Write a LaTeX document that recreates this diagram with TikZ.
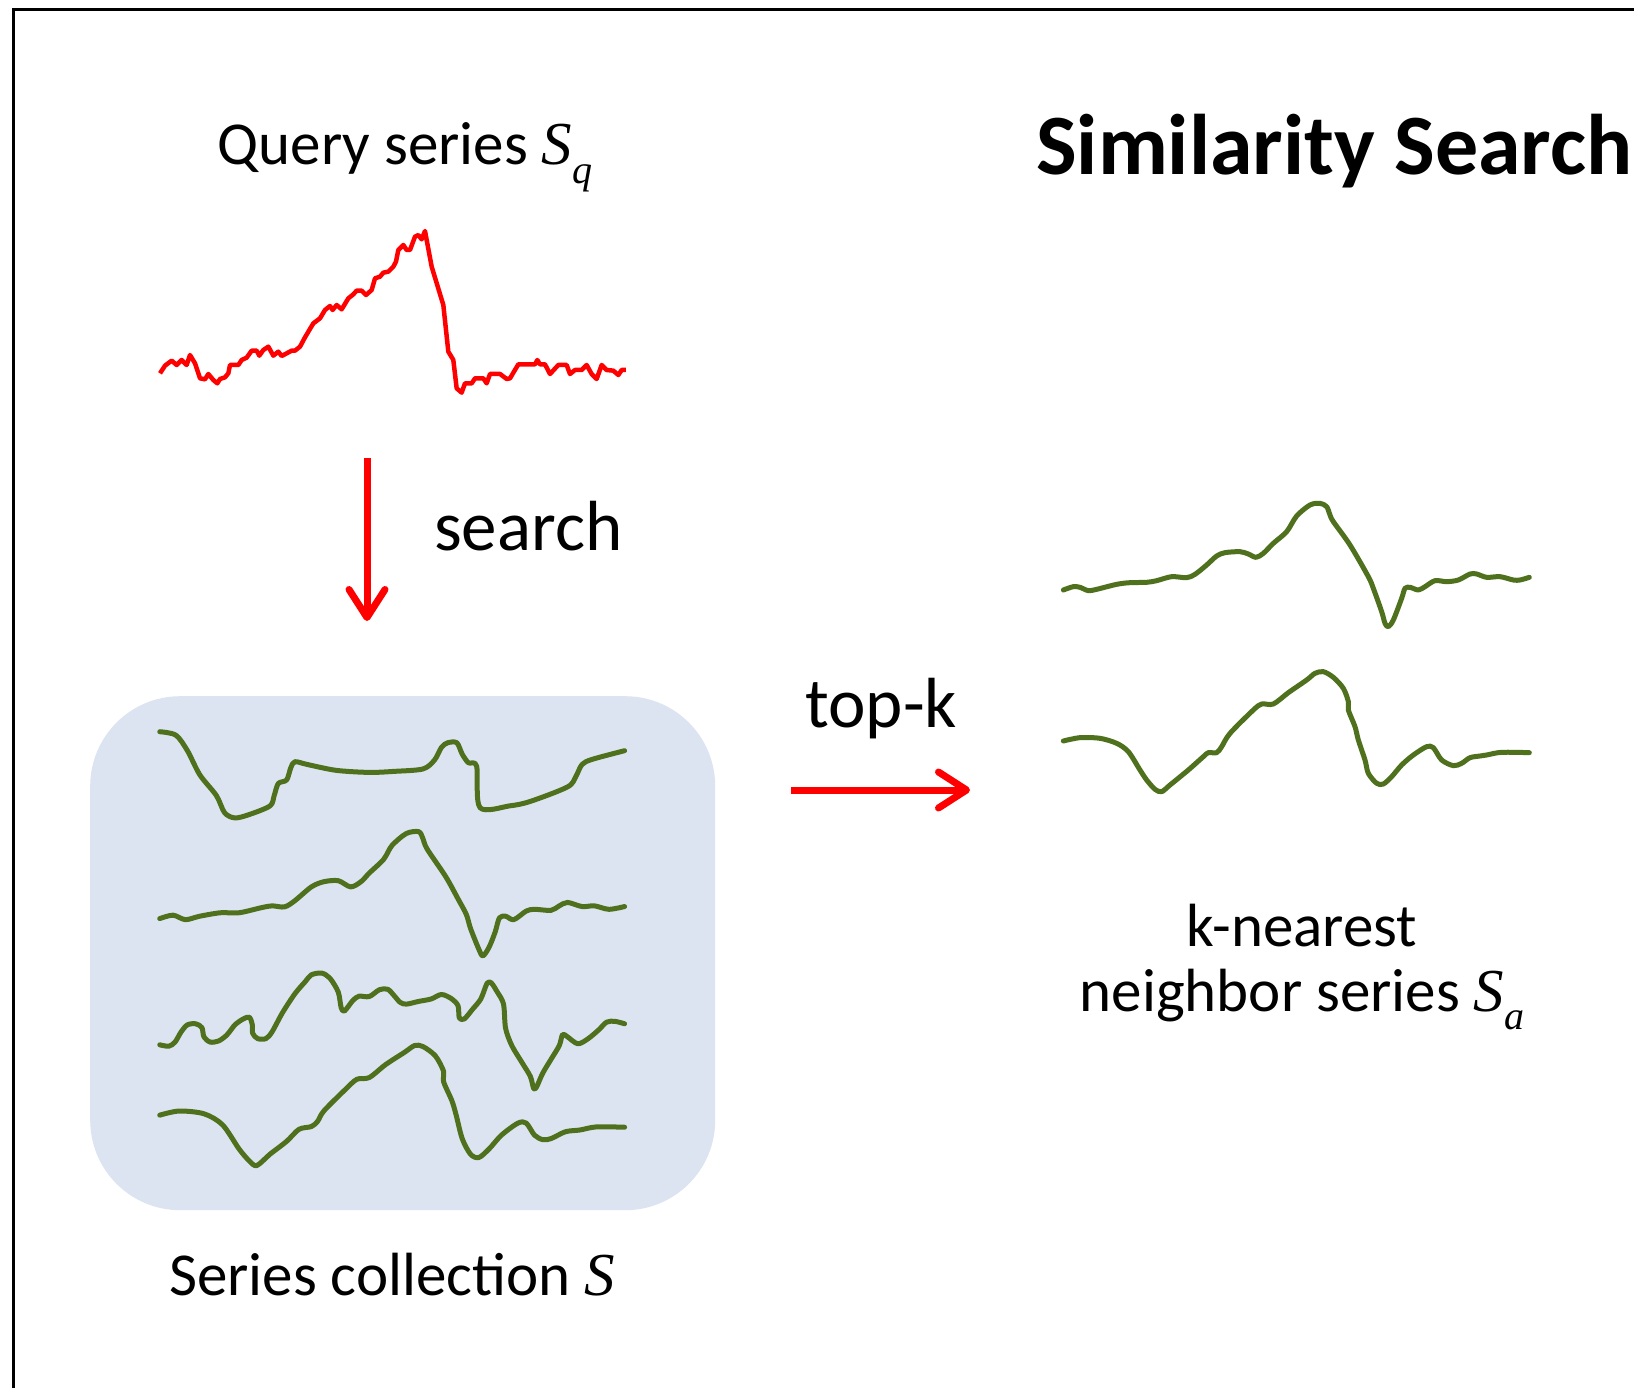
\documentclass[tikz,border=0pt]{standalone}
\usepackage{fontspec}
\setmainfont{Carlito}
\newfontfamily\mfont{Liberation Serif}
\usetikzlibrary{arrows.meta}
\definecolor{sgreen}{RGB}{79,113,30}
\definecolor{boxblue}{RGB}{220,228,241}
\definecolor{qred}{RGB}{255,0,0}
\newcommand{\svar}[1]{{\mfont\itshape S}\raisebox{-0.3em}{\mfont\itshape\fontsize{40}{40}\selectfont #1}}
\tikzset{
  lbl/.style={font=\fontsize{61}{72}\selectfont, inner sep=0pt, anchor=base},
  biglbl/.style={font=\fontsize{71}{80}\selectfont, inner sep=0pt, anchor=base west},
  gline/.style={draw=sgreen, line width=5pt, line cap=round, line join=round},
  rline/.style={draw=qred, line width=4.5pt, line join=round},
  redarrow/.style={draw=qred, line width=7pt, -{Straight Barb[length=28pt, width=36pt, round]}},
  frame/.style={draw=black, line width=3pt},
}
\begin{document}
\begin{tikzpicture}[x=1pt, y=-1pt]
\useasboundingbox (0,0) rectangle (1634,1388);
\fill[white] (0,0) rectangle (1634,1388);
% frame
\draw[frame] (13.5,1388) -- (13.5,10) -- (1634,10);

% title and labels
\node[font=\fontsize{86}{95}\selectfont\bfseries, inner sep=0pt, anchor=base west] (title) at (1036,175) {Similarity Search};
\node[lbl] (qlabel) at (405,165) {Query series \svar{q}};
\node[biglbl] (searchlbl) at (434,550) {search};
\node[biglbl] (topklbl) at (805,727) {top-k};
\node[lbl] (knn1) at (1302,946) {k-nearest};
\node[lbl] (knn2) at (1302,1011) {neighbor series \svar{a}};
\node[lbl] (clabel) at (392,1295) {Series collection {\mfont\itshape S}};

% collection box
\node[fill=boxblue, rounded corners=90pt, minimum width=625pt, minimum height=514pt, inner sep=0pt, anchor=north west] (coll) at (90,696) {};

% arrows
\coordinate (sa) at (367,458);
\coordinate (sb) at (367,621);
\draw[redarrow] (sa) -- (sb);
\coordinate (ta) at (791,790);
\coordinate (tb) at (970,790);
\draw[redarrow] (ta) -- (tb);

% query series
\begin{scope}[shift={(140,200)}, scale=1/3]
\draw[rline] plot coordinates {(60,520)(75,497)(95,482)(110,495)(125,480)(140,495)(150,465)(165,490)(180,535)(195,538)(205,522)(220,540)(232,550)(240,537)(255,532)(265,520)(270,495)(295,495)(305,480)(320,473)(335,452)(350,452)(358,467)(370,450)(385,440)(400,467)(415,455)(425,468)(440,460)(455,452)(465,452)(480,440)(495,412)(520,370)(540,355)(555,330)(570,318)(578,330)(590,315)(605,328)(625,295)(640,283)(650,272)(665,272)(678,285)(695,270)(705,235)(720,230)(730,218)(745,215)(760,200)(768,185)(775,150)(790,135)(800,150)(810,150)(825,110)(835,105)(845,118)(855,93)(875,200)(910,315)(925,455)(940,480)(950,565)(965,578)(975,550)(995,550)(1005,535)(1030,535)(1040,550)(1050,522)(1080,522)(1100,537)(1110,535)(1135,493)(1185,493)(1192,480)(1200,493)(1215,493)(1230,522)(1255,495)(1280,495)(1290,522)(1305,510)(1325,510)(1340,495)(1355,522)(1370,537)(1385,495)(1400,510)(1420,512)(1435,525)(1445,510)(1458,510)};
\end{scope}

% collection series
\begin{scope}[shift={(80,680)}, xscale=1/2.42, yscale=1/2.9]
\draw[gline] plot[smooth, tension=0.5] coordinates {(193,150)(232,160)(260,205)(290,275)(330,335)(350,385)(375,400)(410,390)(460,365)(470,335)(480,300)(500,290)(510,255)(520,237)(550,245)(620,262)(700,268)(760,265)(830,258)(858,232)(875,195)(890,182)(912,182)(925,215)(940,240)(960,250)(968,370)(1040,365)(1090,352)(1180,310)(1200,280)(1215,245)(1240,230)(1318,205)};
\draw[gline] plot[smooth, tension=0.5] coordinates {(193,692)(225,682)(255,695)(290,685)(340,675)(385,675)(440,660)(465,655)(495,658)(520,640)(560,600)(590,585)(625,582)(655,600)(680,585)(700,560)(735,520)(755,480)(790,445)(820,440)(830,460)(840,490)(885,570)(915,635)(935,680)(945,720)(965,780)(975,800)(990,775)(1005,730)(1015,690)(1030,685)(1050,695)(1080,670)(1100,665)(1140,668)(1160,655)(1180,645)(1215,657)(1245,655)(1280,665)(1318,657)};
\draw[gline] plot[smooth, tension=0.5] coordinates {(193,1058)(215,1062)(230,1050)(245,1020)(260,1000)(280,997)(295,1008)(300,1035)(315,1050)(335,1047)(355,1030)(375,1000)(395,983)(410,978)(417,1000)(418,1025)(430,1040)(450,1040)(465,1020)(490,965)(520,910)(545,875)(560,855)(585,850)(605,865)(625,905)(632,950)(640,960)(660,930)(675,917)(700,918)(725,898)(745,897)(760,915)(775,935)(790,940)(820,932)(850,925)(875,912)(900,925)(915,945)(918,980)(930,983)(950,955)(970,925)(985,880)(995,878)(1010,905)(1025,940)(1030,1010)(1045,1060)(1070,1110)(1090,1150)(1098,1185)(1105,1180)(1120,1140)(1140,1100)(1160,1060)(1168,1028)(1180,1035)(1205,1055)(1230,1040)(1255,1015)(1275,992)(1295,990)(1318,997)};
\draw[gline] plot[smooth, tension=0.5] coordinates {(193,1262)(240,1250)(300,1258)(345,1290)(385,1360)(410,1395)(428,1408)(460,1375)(500,1338)(530,1303)(560,1295)(575,1280)(590,1250)(640,1190)(670,1158)(700,1153)(740,1115)(785,1080)(810,1060)(830,1063)(860,1090)(880,1135)(880,1165)(900,1220)(910,1260)(925,1330)(945,1375)(965,1385)(990,1360)(1020,1320)(1060,1285)(1080,1285)(1100,1320)(1120,1333)(1140,1330)(1175,1310)(1210,1305)(1250,1296)(1318,1297)};
\end{scope}

% nearest neighbour series
\begin{scope}[shift={(1040,480)}, scale=1/3]
\draw[gline] plot[smooth, tension=0.5] coordinates {(70,330)(100,320)(120,322)(145,332)(170,328)(230,313)(270,308)(320,307)(350,302)(395,290)(440,293)(465,283)(500,255)(530,228)(555,218)(600,215)(625,222)(648,232)(670,220)(700,190)(740,155)(770,108)(810,75)(840,70)(860,80)(870,105)(880,125)(930,195)(985,290)(1000,325)(1025,395)(1035,430)(1045,440)(1060,420)(1085,355)(1095,325)(1110,322)(1135,330)(1155,320)(1185,302)(1220,305)(1255,300)(1290,282)(1310,282)(1340,292)(1380,290)(1420,300)(1440,300)(1468,292)};
\draw[gline] plot[smooth, tension=0.5] coordinates {(70,783)(120,773)(180,775)(230,790)(265,815)(300,870)(320,900)(345,928)(365,935)(390,915)(445,870)(490,830)(505,818)(530,818)(545,800)(570,760)(640,690)(665,672)(700,672)(745,638)(800,600)(825,580)(850,575)(880,592)(910,625)(925,665)(925,690)(945,740)(955,780)(975,840)(985,880)(1010,910)(1030,912)(1055,890)(1085,855)(1120,825)(1160,800)(1180,803)(1205,840)(1240,857)(1265,850)(1290,833)(1320,828)(1340,825)(1385,817)(1468,818)};
\end{scope}
\end{tikzpicture}
\end{document}
